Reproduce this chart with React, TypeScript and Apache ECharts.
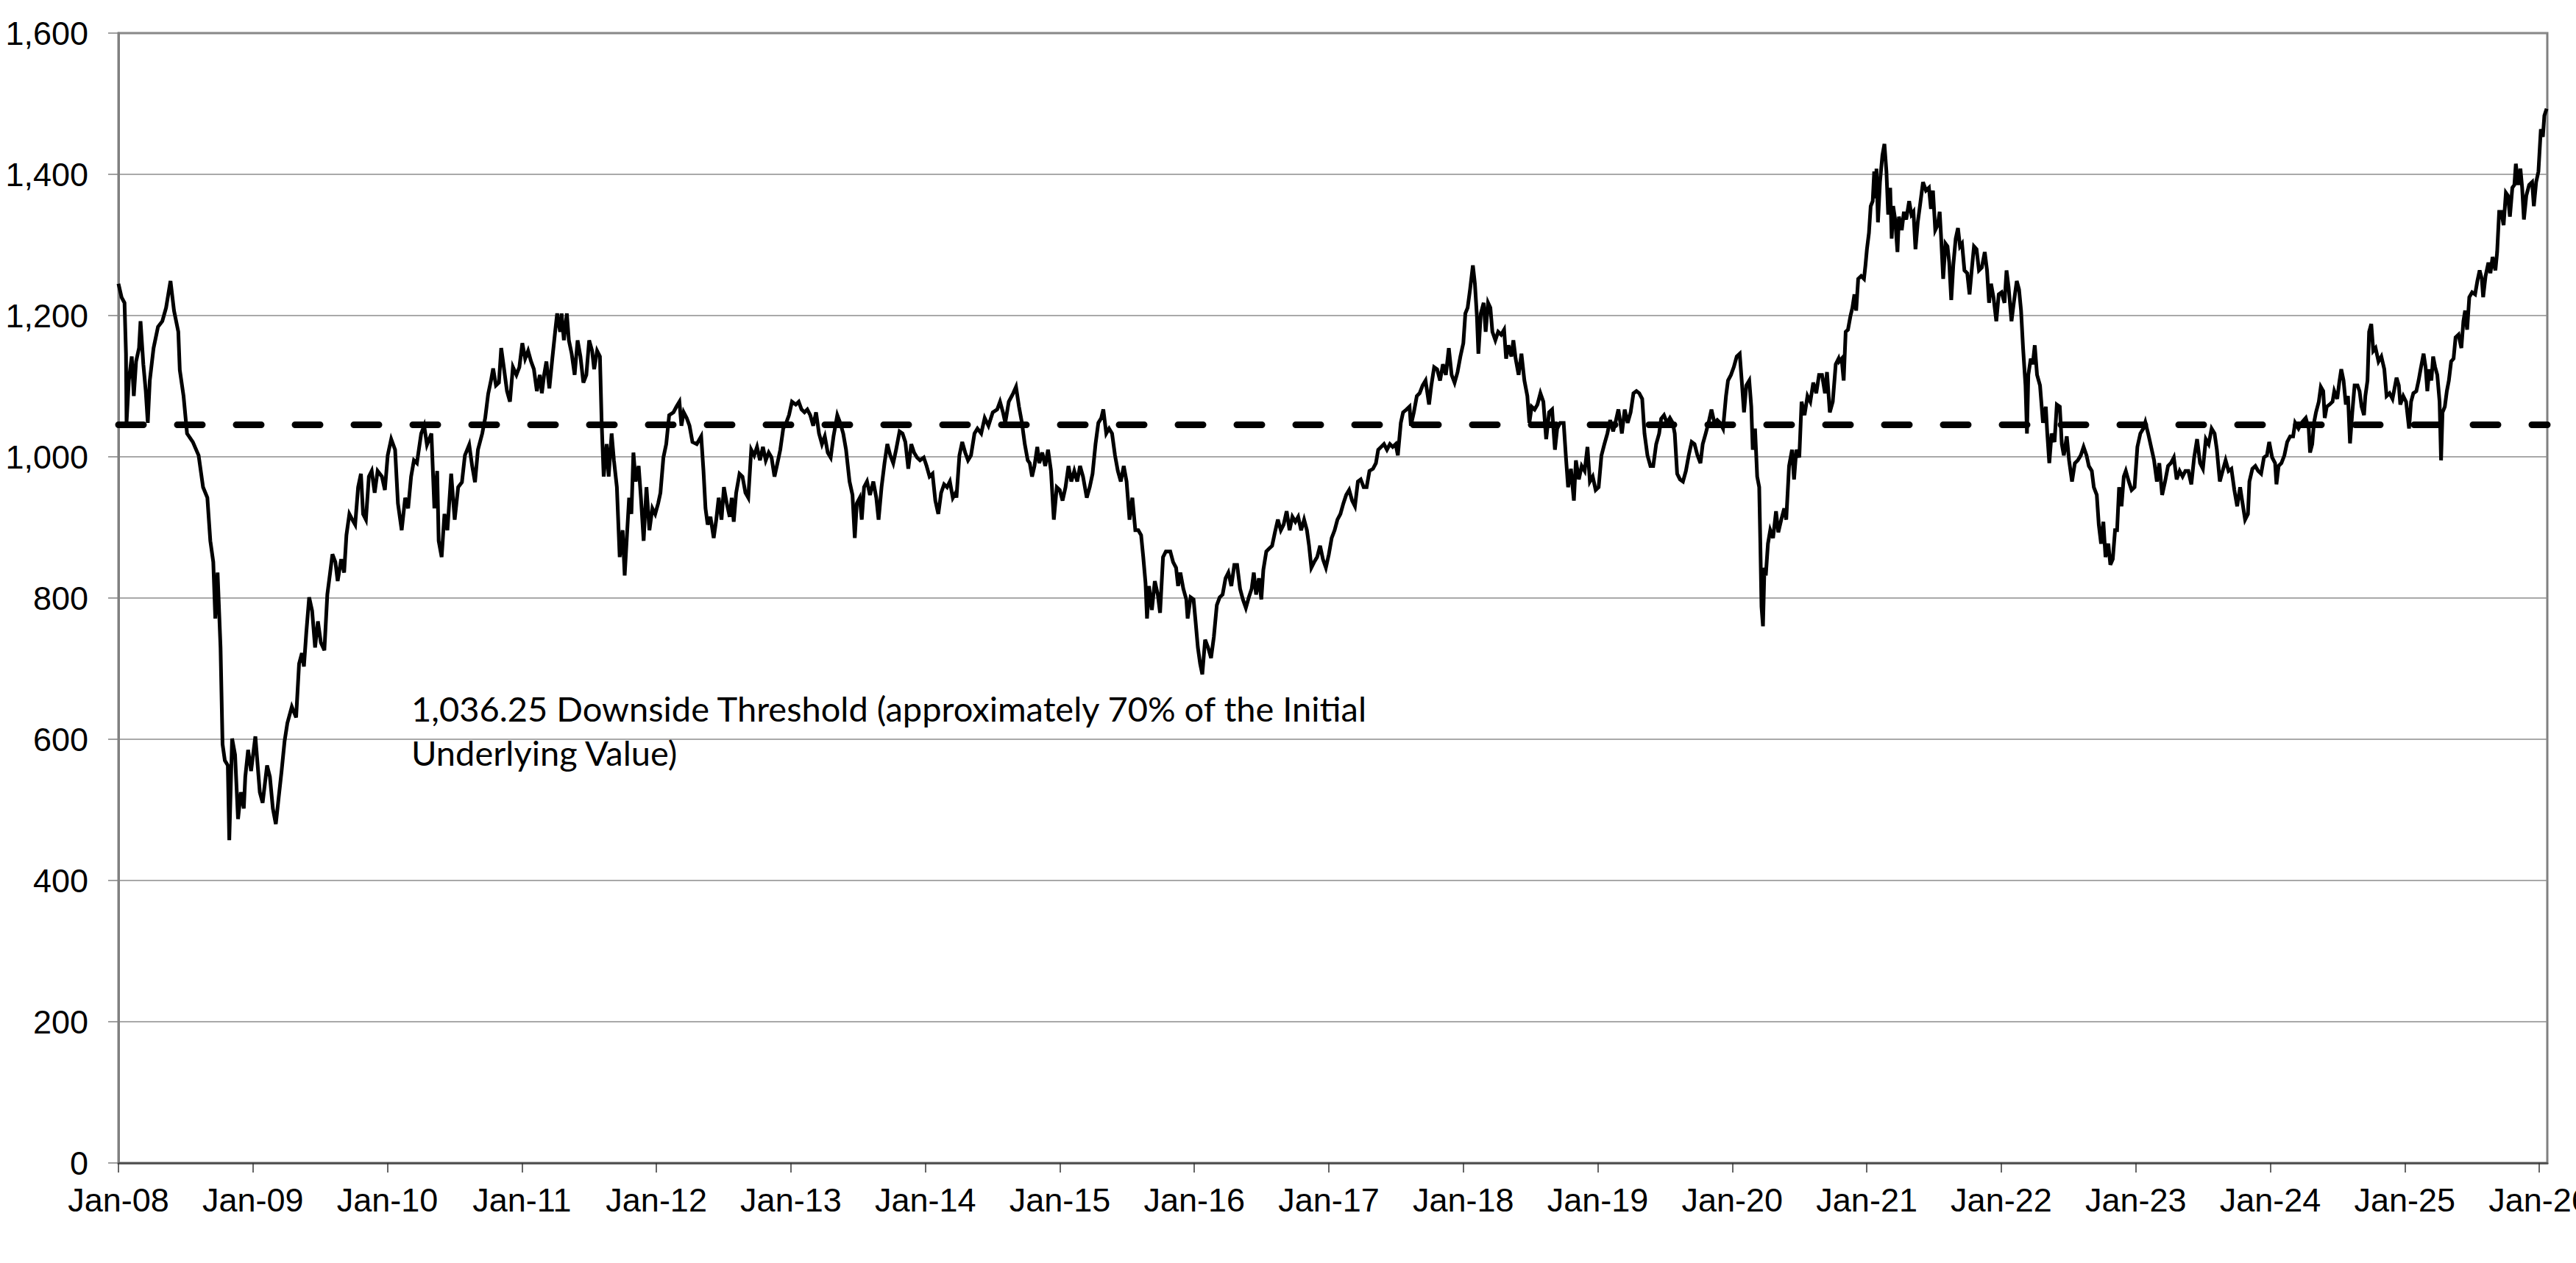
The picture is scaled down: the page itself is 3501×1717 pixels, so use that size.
import { useEffect, useRef } from "react";
import * as echarts from "echarts";

// [decimal year, index level], one array per stretch of years
const levels2008to2010: [number, number][] = [
  [2008.0, 1245], [2008.023, 1226], [2008.045, 1218], [2008.056, 1146], [2008.06, 1048], [2008.077, 1108],
  [2008.099, 1142], [2008.114, 1086], [2008.131, 1135], [2008.153, 1154], [2008.164, 1192], [2008.185, 1131],
  [2008.203, 1093], [2008.218, 1048], [2008.233, 1108], [2008.261, 1154], [2008.294, 1184], [2008.326, 1192],
  [2008.354, 1211], [2008.387, 1249], [2008.413, 1207], [2008.445, 1177], [2008.456, 1123], [2008.484, 1086],
  [2008.51, 1033], [2008.553, 1021], [2008.596, 1002], [2008.629, 957], [2008.661, 942], [2008.683, 881],
  [2008.705, 851], [2008.72, 771], [2008.737, 836], [2008.759, 730], [2008.774, 593], [2008.791, 570],
  [2008.813, 563], [2008.824, 457], [2008.845, 601], [2008.867, 578], [2008.889, 487], [2008.91, 525],
  [2008.932, 502], [2008.943, 547], [2008.964, 585], [2008.986, 555], [2009.018, 604], [2009.051, 525],
  [2009.072, 510], [2009.105, 563], [2009.126, 547], [2009.148, 502], [2009.17, 480], [2009.191, 517],
  [2009.213, 555], [2009.235, 597], [2009.256, 623], [2009.289, 646], [2009.321, 631], [2009.343, 707],
  [2009.364, 722], [2009.379, 703], [2009.397, 752], [2009.418, 801], [2009.44, 782], [2009.462, 730],
  [2009.483, 767], [2009.505, 737], [2009.531, 726], [2009.553, 805], [2009.574, 836], [2009.591, 862],
  [2009.613, 851], [2009.63, 824], [2009.656, 855], [2009.678, 836], [2009.695, 889], [2009.717, 919],
  [2009.739, 911], [2009.76, 904], [2009.782, 957], [2009.803, 976], [2009.819, 919], [2009.84, 911],
  [2009.862, 972], [2009.883, 980], [2009.905, 949], [2009.927, 980], [2009.959, 972], [2009.981, 953],
  [2010.002, 1002], [2010.028, 1025], [2010.057, 1010], [2010.078, 934], [2010.106, 896], [2010.132, 942],
  [2010.154, 927], [2010.176, 972], [2010.197, 995], [2010.219, 991], [2010.251, 1033], [2010.273, 1044],
  [2010.294, 1017], [2010.327, 1033], [2010.349, 927], [2010.37, 980], [2010.381, 881], [2010.403, 858],
  [2010.424, 919], [2010.446, 896], [2010.474, 976], [2010.5, 911], [2010.526, 957], [2010.554, 964],
  [2010.576, 1002], [2010.608, 1017], [2010.63, 987], [2010.651, 964], [2010.673, 1010], [2010.705, 1033],
  [2010.727, 1055], [2010.749, 1089], [2010.77, 1108], [2010.786, 1125], [2010.807, 1101], [2010.829, 1105],
  [2010.846, 1154], [2010.868, 1123], [2010.889, 1093], [2010.911, 1078], [2010.933, 1127],
];

const levels2011to2014: [number, number][] = [
  [2010.959, 1116], [2010.981, 1127], [2011.003, 1161], [2011.024, 1139], [2011.046, 1150], [2011.068, 1135],
  [2011.089, 1124], [2011.111, 1093], [2011.133, 1116], [2011.148, 1090], [2011.165, 1116], [2011.182, 1135],
  [2011.204, 1097], [2011.226, 1139], [2011.247, 1177], [2011.262, 1203], [2011.284, 1177], [2011.295, 1203],
  [2011.312, 1165], [2011.334, 1203], [2011.349, 1165], [2011.37, 1146], [2011.392, 1116], [2011.414, 1165],
  [2011.435, 1142], [2011.457, 1105], [2011.479, 1116], [2011.5, 1165], [2011.522, 1150], [2011.537, 1124],
  [2011.559, 1150], [2011.58, 1142], [2011.593, 1048], [2011.608, 972], [2011.63, 1018], [2011.645, 972],
  [2011.667, 1033], [2011.684, 995], [2011.706, 957], [2011.727, 858], [2011.749, 896], [2011.764, 832],
  [2011.781, 889], [2011.797, 942], [2011.814, 919], [2011.829, 1006], [2011.846, 965], [2011.868, 987],
  [2011.885, 942], [2011.905, 881], [2011.926, 957], [2011.948, 896], [2011.97, 927], [2011.991, 919],
  [2012.013, 934], [2012.03, 949], [2012.052, 999], [2012.073, 1018], [2012.095, 1059], [2012.127, 1063],
  [2012.149, 1071], [2012.171, 1078], [2012.186, 1044], [2012.203, 1063], [2012.225, 1055], [2012.246, 1044],
  [2012.268, 1021], [2012.3, 1018], [2012.333, 1029], [2012.35, 980], [2012.365, 927], [2012.381, 904],
  [2012.402, 915], [2012.426, 885], [2012.445, 911], [2012.463, 942], [2012.484, 911], [2012.502, 957],
  [2012.523, 934], [2012.545, 915], [2012.56, 942], [2012.575, 908], [2012.593, 949], [2012.618, 976],
  [2012.64, 972], [2012.662, 949], [2012.683, 942], [2012.705, 1010], [2012.727, 1002], [2012.748, 1014],
  [2012.77, 995], [2012.792, 1014], [2012.813, 995], [2012.835, 1006], [2012.856, 999], [2012.878, 972],
  [2012.9, 991], [2012.921, 1010], [2012.943, 1040], [2012.965, 1048], [2012.986, 1059], [2013.008, 1078],
  [2013.036, 1074], [2013.058, 1078], [2013.079, 1067], [2013.101, 1063], [2013.122, 1067], [2013.144, 1059],
  [2013.166, 1044], [2013.187, 1063], [2013.209, 1033], [2013.231, 1018], [2013.252, 1029], [2013.274, 1006],
  [2013.296, 999], [2013.317, 1029], [2013.345, 1059], [2013.367, 1048], [2013.389, 1033], [2013.41, 1010],
  [2013.436, 965], [2013.458, 946], [2013.475, 885], [2013.49, 934], [2013.512, 942], [2013.527, 911],
  [2013.544, 957], [2013.566, 965], [2013.588, 946], [2013.613, 965], [2013.635, 942], [2013.652, 911],
  [2013.674, 957], [2013.696, 991], [2013.717, 1018], [2013.739, 1002], [2013.761, 991], [2013.782, 1010],
  [2013.808, 1036], [2013.83, 1033], [2013.851, 1021], [2013.873, 983], [2013.895, 1018], [2013.916, 1006],
  [2013.938, 999], [2013.96, 995], [2013.988, 999], [2014.009, 987], [2014.031, 972], [2014.053, 976],
  [2014.074, 938], [2014.096, 919], [2014.117, 949], [2014.139, 961], [2014.161, 957], [2014.182, 965],
  [2014.204, 942], [2014.225, 949],
];

const levels2014to2017: [number, number][] = [
  [2014.231, 942], [2014.253, 1002], [2014.274, 1021], [2014.296, 1006], [2014.317, 995], [2014.339, 1002],
  [2014.365, 1033], [2014.387, 1040], [2014.415, 1033], [2014.441, 1055], [2014.469, 1044], [2014.501, 1063],
  [2014.534, 1067], [2014.555, 1078], [2014.577, 1063], [2014.594, 1048], [2014.62, 1078], [2014.653, 1090],
  [2014.674, 1099], [2014.696, 1071], [2014.718, 1048], [2014.739, 1018], [2014.761, 995], [2014.776, 991],
  [2014.793, 972], [2014.811, 987], [2014.832, 1014], [2014.847, 991], [2014.869, 1006], [2014.891, 987],
  [2014.912, 1010], [2014.934, 980], [2014.955, 911], [2014.977, 957], [2014.999, 953], [2015.02, 938],
  [2015.042, 957], [2015.064, 987], [2015.085, 965], [2015.107, 980], [2015.129, 965], [2015.15, 987],
  [2015.172, 972], [2015.2, 942], [2015.222, 957], [2015.243, 976], [2015.265, 1018], [2015.286, 1048],
  [2015.308, 1055], [2015.323, 1067], [2015.345, 1033], [2015.366, 1040], [2015.388, 1033], [2015.41, 1002],
  [2015.431, 980], [2015.453, 965], [2015.475, 987], [2015.496, 965], [2015.518, 911], [2015.539, 942],
  [2015.561, 896], [2015.583, 896], [2015.604, 889], [2015.62, 858], [2015.637, 821], [2015.648, 771],
  [2015.663, 817], [2015.684, 783], [2015.706, 824], [2015.728, 805], [2015.745, 779], [2015.767, 858],
  [2015.788, 866], [2015.821, 866], [2015.842, 851], [2015.864, 843], [2015.879, 817], [2015.896, 836],
  [2015.918, 813], [2015.94, 798], [2015.95, 771], [2015.972, 801], [2015.994, 798], [2016.009, 767],
  [2016.026, 730], [2016.043, 707], [2016.059, 692], [2016.08, 741], [2016.102, 730], [2016.124, 715],
  [2016.145, 745], [2016.167, 790], [2016.188, 801], [2016.21, 805], [2016.232, 828], [2016.253, 836],
  [2016.275, 817], [2016.297, 847], [2016.318, 847], [2016.34, 813], [2016.361, 798], [2016.383, 786],
  [2016.405, 801], [2016.426, 813], [2016.442, 836], [2016.459, 805], [2016.48, 828], [2016.498, 798],
  [2016.513, 840], [2016.535, 866], [2016.556, 870], [2016.578, 874], [2016.599, 893], [2016.621, 911],
  [2016.643, 896], [2016.664, 904], [2016.686, 923], [2016.708, 896], [2016.729, 915], [2016.751, 908],
  [2016.772, 915], [2016.794, 896], [2016.816, 911], [2016.837, 896], [2016.853, 874], [2016.87, 843],
  [2016.891, 851], [2016.913, 858], [2016.935, 874], [2016.956, 855], [2016.978, 843], [2017.0, 862],
  [2017.021, 885], [2017.043, 896], [2017.064, 911], [2017.086, 919], [2017.108, 934], [2017.129, 946],
  [2017.151, 953], [2017.173, 938], [2017.194, 930], [2017.216, 965], [2017.237, 968], [2017.259, 957],
  [2017.281, 957], [2017.302, 980], [2017.328, 983], [2017.35, 991], [2017.367, 1010], [2017.389, 1014],
  [2017.41, 1018], [2017.432, 1010], [2017.454, 1018], [2017.475, 1014], [2017.497, 1018],
];

const levels2017to2020: [number, number][] = [
  [2017.513, 1002], [2017.535, 1048], [2017.552, 1063], [2017.578, 1067], [2017.6, 1071], [2017.61, 1044],
  [2017.632, 1063], [2017.654, 1086], [2017.675, 1090], [2017.697, 1101], [2017.719, 1108], [2017.745, 1074],
  [2017.762, 1101], [2017.783, 1127], [2017.805, 1124], [2017.827, 1108], [2017.848, 1131], [2017.87, 1116],
  [2017.892, 1154], [2017.913, 1116], [2017.935, 1105], [2017.957, 1120], [2017.978, 1142], [2018.0, 1161],
  [2018.015, 1203], [2018.032, 1211], [2018.05, 1237], [2018.071, 1271], [2018.086, 1245], [2018.101, 1199],
  [2018.112, 1146], [2018.13, 1203], [2018.151, 1218], [2018.166, 1177], [2018.184, 1218], [2018.201, 1211],
  [2018.216, 1177], [2018.238, 1165], [2018.259, 1177], [2018.281, 1173], [2018.303, 1180], [2018.318, 1139],
  [2018.335, 1158], [2018.357, 1142], [2018.372, 1165], [2018.389, 1139], [2018.411, 1116], [2018.432, 1146],
  [2018.454, 1108], [2018.476, 1086], [2018.491, 1048], [2018.508, 1071], [2018.53, 1067], [2018.551, 1074],
  [2018.573, 1090], [2018.595, 1078], [2018.616, 1025], [2018.638, 1063], [2018.66, 1067], [2018.681, 1010],
  [2018.698, 1040], [2018.72, 1048], [2018.746, 1048], [2018.763, 999], [2018.779, 957], [2018.8, 983],
  [2018.822, 938], [2018.837, 995], [2018.859, 968], [2018.88, 987], [2018.902, 980], [2018.923, 1014],
  [2018.941, 965], [2018.962, 972], [2018.984, 953], [2019.006, 957], [2019.027, 1002], [2019.049, 1018],
  [2019.071, 1033], [2019.092, 1052], [2019.114, 1036], [2019.135, 1052], [2019.153, 1067], [2019.179, 1033],
  [2019.2, 1067], [2019.222, 1048], [2019.244, 1063], [2019.265, 1090], [2019.287, 1093], [2019.308, 1090],
  [2019.33, 1082], [2019.347, 1033], [2019.369, 1002], [2019.391, 987], [2019.412, 987], [2019.434, 1018],
  [2019.456, 1033], [2019.471, 1054], [2019.492, 1059], [2019.514, 1048], [2019.536, 1055], [2019.557, 1048],
  [2019.572, 1033], [2019.59, 976], [2019.611, 968], [2019.633, 965], [2019.655, 980], [2019.676, 1002],
  [2019.698, 1021], [2019.719, 1018], [2019.741, 1002], [2019.763, 991], [2019.78, 1018], [2019.802, 1033],
  [2019.823, 1048], [2019.845, 1067], [2019.867, 1048], [2019.888, 1052], [2019.91, 1048], [2019.931, 1040],
  [2019.953, 1086], [2019.968, 1108], [2019.99, 1116], [2020.011, 1127], [2020.033, 1142], [2020.055, 1146],
  [2020.07, 1108], [2020.087, 1063], [2020.104, 1101], [2020.126, 1108], [2020.141, 1071], [2020.152, 1010],
  [2020.169, 1040], [2020.185, 972], [2020.2, 957], [2020.208, 881], [2020.217, 788], [2020.228, 760],
  [2020.239, 843], [2020.249, 832], [2020.265, 877], [2020.282, 896], [2020.303, 885], [2020.325, 923],
  [2020.342, 893], [2020.364, 911], [2020.386, 927], [2020.401, 911], [2020.422, 987], [2020.444, 1010],
  [2020.459, 968], [2020.476, 1010], [2020.498, 999], [2020.515, 1078], [2020.537, 1059], [2020.559, 1086],
  [2020.58, 1078], [2020.602, 1105], [2020.624, 1090], [2020.645, 1116], [2020.667, 1116], [2020.689, 1090],
  [2020.704, 1120], [2020.725, 1063], [2020.747, 1078], [2020.769, 1131], [2020.79, 1139],
];

const levels2020to2024: [number, number][] = [
  [2020.795, 1135], [2020.813, 1139], [2020.828, 1108], [2020.843, 1177], [2020.86, 1180], [2020.878, 1199],
  [2020.893, 1211], [2020.908, 1230], [2020.921, 1207], [2020.936, 1252], [2020.958, 1256], [2020.979, 1252],
  [2020.99, 1271], [2021.001, 1294], [2021.016, 1317], [2021.029, 1355], [2021.044, 1362], [2021.055, 1404],
  [2021.066, 1366], [2021.072, 1408], [2021.083, 1332], [2021.098, 1389], [2021.116, 1427], [2021.131, 1443],
  [2021.146, 1404], [2021.159, 1343], [2021.174, 1381], [2021.185, 1309], [2021.196, 1355], [2021.211, 1336],
  [2021.228, 1290], [2021.239, 1340], [2021.26, 1321], [2021.276, 1347], [2021.293, 1336], [2021.315, 1362],
  [2021.332, 1343], [2021.347, 1347], [2021.362, 1294], [2021.379, 1332], [2021.397, 1358], [2021.418, 1389],
  [2021.44, 1377], [2021.462, 1381], [2021.477, 1351], [2021.492, 1377], [2021.509, 1321], [2021.527, 1328],
  [2021.542, 1347], [2021.552, 1313], [2021.568, 1252], [2021.585, 1302], [2021.6, 1298], [2021.613, 1275],
  [2021.628, 1222], [2021.643, 1271], [2021.661, 1309], [2021.678, 1324], [2021.693, 1298], [2021.708, 1302],
  [2021.726, 1264], [2021.747, 1260], [2021.764, 1230], [2021.78, 1264], [2021.797, 1298], [2021.816, 1294],
  [2021.834, 1264], [2021.855, 1268], [2021.877, 1290], [2021.894, 1264], [2021.909, 1218], [2021.924, 1245],
  [2021.942, 1226], [2021.963, 1192], [2021.981, 1230], [2022.002, 1233], [2022.024, 1218], [2022.039, 1264],
  [2022.054, 1241], [2022.076, 1192], [2022.093, 1218], [2022.115, 1249], [2022.132, 1237], [2022.147, 1207],
  [2022.162, 1154], [2022.18, 1101], [2022.191, 1033], [2022.201, 1116], [2022.219, 1139], [2022.234, 1131],
  [2022.249, 1158], [2022.266, 1116], [2022.288, 1101], [2022.31, 1048], [2022.331, 1071], [2022.342, 1033],
  [2022.357, 991], [2022.374, 1033], [2022.396, 1021], [2022.413, 1074], [2022.435, 1071], [2022.45, 1018],
  [2022.465, 1002], [2022.487, 1029], [2022.504, 995], [2022.526, 965], [2022.547, 991], [2022.569, 995],
  [2022.591, 1002], [2022.612, 1014], [2022.634, 1002], [2022.651, 987], [2022.673, 980], [2022.688, 957],
  [2022.71, 946], [2022.725, 904], [2022.742, 877], [2022.759, 908], [2022.775, 858], [2022.796, 877],
  [2022.811, 847], [2022.829, 855], [2022.846, 896], [2022.861, 896], [2022.876, 957], [2022.894, 930],
  [2022.911, 972], [2022.926, 980], [2022.948, 965], [2022.969, 953], [2022.991, 957], [2023.012, 1014],
  [2023.034, 1033], [2023.056, 1040], [2023.071, 1049], [2023.092, 1033], [2023.114, 1014], [2023.136, 995],
  [2023.157, 965], [2023.175, 991], [2023.196, 946], [2023.218, 965], [2023.24, 987], [2023.261, 991],
  [2023.283, 999], [2023.304, 968], [2023.326, 980], [2023.348, 972], [2023.369, 980], [2023.391, 980],
  [2023.413, 961], [2023.434, 999], [2023.456, 1025], [2023.478, 991], [2023.499, 983], [2023.521, 1025],
  [2023.542, 1018], [2023.564, 1040], [2023.586, 1033], [2023.603, 1010], [2023.625, 965], [2023.646, 980],
  [2023.668, 995], [2023.69, 980], [2023.711, 983], [2023.733, 953], [2023.754, 930], [2023.776, 957],
  [2023.791, 938], [2023.813, 911], [2023.834, 919], [2023.845, 965], [2023.867, 983], [2023.889, 987],
  [2023.91, 980], [2023.932, 976], [2023.953, 999], [2023.975, 1002], [2023.992, 1021], [2024.014, 999],
  [2024.036, 991], [2024.046, 961], [2024.062, 987], [2024.083, 991], [2024.105, 1002], [2024.126, 1021],
  [2024.148, 1029], [2024.17, 1029], [2024.185, 1048],
];

const levels2024to2026: [number, number][] = [
  [2024.21, 1040], [2024.232, 1048], [2024.264, 1055], [2024.286, 1040], [2024.296, 1006], [2024.312, 1018],
  [2024.325, 1048], [2024.34, 1063], [2024.361, 1078], [2024.376, 1099], [2024.394, 1093], [2024.405, 1055],
  [2024.42, 1071], [2024.441, 1074], [2024.463, 1078], [2024.476, 1093], [2024.498, 1082], [2024.513, 1105],
  [2024.528, 1124], [2024.545, 1108], [2024.562, 1074], [2024.578, 1086], [2024.593, 1019], [2024.61, 1063],
  [2024.627, 1101], [2024.649, 1101], [2024.664, 1093], [2024.679, 1071], [2024.697, 1059], [2024.707, 1086],
  [2024.723, 1108], [2024.735, 1177], [2024.751, 1188], [2024.766, 1150], [2024.783, 1154], [2024.805, 1135],
  [2024.826, 1142], [2024.848, 1124], [2024.865, 1086], [2024.887, 1090], [2024.909, 1082], [2024.924, 1097],
  [2024.939, 1112], [2024.956, 1101], [2024.967, 1074], [2024.989, 1086], [2025.01, 1078], [2025.032, 1040],
  [2025.047, 1078], [2025.064, 1090], [2025.086, 1093], [2025.103, 1108], [2025.118, 1124], [2025.14, 1146],
  [2025.155, 1127], [2025.168, 1093], [2025.183, 1124], [2025.198, 1108], [2025.211, 1142], [2025.226, 1127],
  [2025.242, 1116], [2025.259, 1078], [2025.27, 995], [2025.281, 1063], [2025.298, 1071], [2025.313, 1093],
  [2025.328, 1108], [2025.345, 1135], [2025.363, 1139], [2025.378, 1169], [2025.4, 1173], [2025.421, 1154],
  [2025.436, 1192], [2025.449, 1207], [2025.464, 1180], [2025.48, 1226], [2025.501, 1233], [2025.523, 1230],
  [2025.54, 1249], [2025.557, 1264], [2025.573, 1252], [2025.583, 1226], [2025.601, 1256], [2025.622, 1275],
  [2025.637, 1260], [2025.653, 1283], [2025.674, 1264], [2025.687, 1290], [2025.702, 1347], [2025.718, 1347],
  [2025.735, 1328], [2025.752, 1374], [2025.767, 1370], [2025.782, 1340], [2025.8, 1381], [2025.815, 1385],
  [2025.826, 1415], [2025.843, 1385], [2025.86, 1408], [2025.873, 1381], [2025.886, 1336], [2025.904, 1370],
  [2025.925, 1385], [2025.947, 1389], [2025.96, 1355], [2025.977, 1389], [2025.994, 1404], [2026.012, 1464],
  [2026.027, 1453], [2026.038, 1483], [2026.055, 1493],
];

const thresholdLevel = 1046;
const yearTicks = [
  2008, 2009, 2010, 2011, 2012, 2013, 2014, 2015, 2016, 2017, 2018, 2019, 2020, 2021, 2022, 2023, 2024, 2025, 2026,
];
const thresholdNote = [
  "1,036.25 Downside Threshold (approximately 70% of the Initial",
  "Underlying Value)",
];

const levels = [
  ...levels2008to2010,
  ...levels2011to2014,
  ...levels2014to2017,
  ...levels2017to2020,
  ...levels2020to2024,
  ...levels2024to2026,
];

const axisFont = { color: "#000", fontFamily: "'Liberation Sans', Arial, sans-serif", fontSize: 45 };

function App() {
  const chartRef = useRef<HTMLDivElement>(null);

  useEffect(() => {
    if (!chartRef.current) return;
    const chart = echarts.init(chartRef.current, null, { renderer: "svg" });

    chart.setOption({
      animation: false,
      backgroundColor: "#fff",
      grid: {
        left: 161,
        right: 39,
        top: 45,
        bottom: 136,
        // the last month label runs off the right edge, as in the original
        outerBoundsMode: "none",
        show: true,
        borderColor: "#808080",
        borderWidth: 3,
        backgroundColor: "transparent",
      },
      xAxis: {
        type: "value",
        min: 2008,
        max: 2026.06,
        interval: 1,
        axisLine: { show: true, lineStyle: { color: "#555", width: 3 } },
        axisTick: {
          show: true,
          length: 13,
          customValues: yearTicks,
          lineStyle: { color: "#333", width: 1.5 },
        },
        axisLabel: {
          ...axisFont,
          margin: 28,
          customValues: yearTicks,
          formatter: (v: number) =>
            Number.isInteger(v) ? "Jan-" + String(v % 100).padStart(2, "0") : "",
        },
        splitLine: { show: false },
      },
      yAxis: {
        type: "value",
        min: 0,
        max: 1600,
        interval: 200,
        axisLine: { show: true, lineStyle: { color: "#808080", width: 3 } },
        axisTick: { show: true, length: 14, lineStyle: { color: "#808080", width: 1.5 } },
        axisLabel: {
          ...axisFont,
          margin: 41,
          formatter: (v: number) => v.toLocaleString("en-US"),
        },
        splitLine: { show: true, lineStyle: { color: "#8c8c8c", width: 1.5 } },
      },
      series: [
        {
          type: "line",
          data: levels,
          showSymbol: false,
          lineStyle: { color: "#000", width: 5, join: "miter" },
          markLine: {
            silent: true,
            symbol: "none",
            label: { show: false },
            lineStyle: { color: "#000", width: 9, type: [34, 46], cap: "round" },
            data: [{ yAxis: thresholdLevel }],
          },
        },
      ],
      graphic: [
        {
          type: "text",
          left: 559,
          top: 933,
          style: {
            text: thresholdNote.join("\n"),
            fill: "#000",
            font: "47px Lato, 'Open Sans', sans-serif",
            lineHeight: 60,
          },
        },
      ],
    });

    return () => {
      chart.dispose();
    };
  }, []);

  return (
    <div
      ref={chartRef}
      style={{ position: "absolute", left: 0, top: 0, width: "3501px", height: "1717px" }}
    />
  );
}

export default App;
